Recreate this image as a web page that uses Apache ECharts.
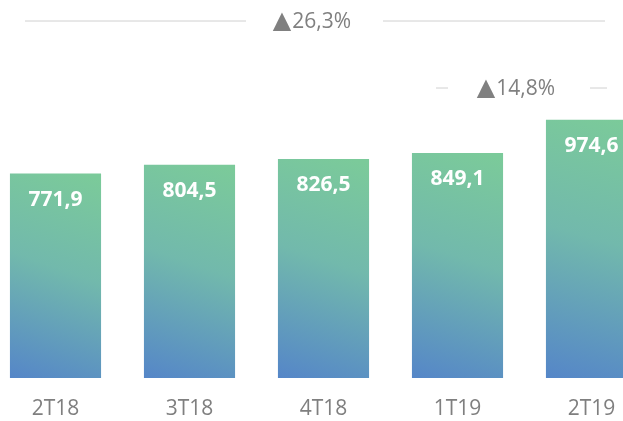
<!DOCTYPE html>
<html>
<head>
<meta charset="utf-8">
<script src="https://cdn.jsdelivr.net/npm/echarts@6/dist/echarts.min.js"></script>
<style>
  html, body { margin: 0; padding: 0; background: #fff; }
  #chart { width: 623px; height: 421px; }
</style>
</head>
<body>
<div id="chart"></div>
<script>
var categories = ['2T18', '3T18', '4T18', '1T19', '2T19']
var values = [771.9, 804.5, 826.5, 849.1, 974.6]
var growthLabels = ['26,3%', '14,8%']

var chart = echarts.init(document.getElementById('chart'))

function fmt(v) {
  return v.toFixed(1).replace('.', ',')
}

function growthText(x, y, txt) {
  return {
    type: 'text', x: x, y: y,
    style: {
      text: '{t|▲}' + txt,
      fill: '#808080',
      font: '21px "Open Sans"',
      align: 'center',
      verticalAlign: 'middle',
      rich: {
        t: { fontFamily: 'DejaVu Sans', fontSize: 24, fill: '#808080', padding: [0, 1, 0, 0] }
      }
    }
  }
}

chart.setOption({
  animation: false,
  grid: {
    left: -11.5,
    right: -35.5,
    top: 113,
    bottom: 43,
    outerBoundsMode: 'none',
    containLabel: false
  },
  xAxis: {
    type: 'category',
    data: categories,
    axisLine: { show: false },
    axisTick: { show: false },
    axisLabel: {
      color: '#7f7f7f',
      fontFamily: 'Open Sans',
      fontSize: 21,
      margin: 21
    }
  },
  yAxis: {
    type: 'value',
    min: 0,
    max: 1000,
    show: false,
    splitLine: { show: false }
  },
  series: [{
    type: 'bar',
    data: values,
    barCategoryGap: '32%',
    itemStyle: {
      color: new echarts.graphic.LinearGradient(0.8, 0, 0, 1, [
        { offset: 0, color: '#7bca9a' },
        { offset: 0.45, color: '#72b9ac' },
        { offset: 1, color: '#5586c8' }
      ])
    },
    label: {
      show: true,
      position: 'insideTop',
      distance: 16,
      color: '#ffffff',
      fontFamily: 'Open Sans',
      fontWeight: 'bold',
      fontSize: 21,
      formatter: function (p) { return fmt(p.value) }
    }
  }],
  graphic: [
    { type: 'line', shape: { x1: 25, y1: 21, x2: 246, y2: 21 }, style: { stroke: '#d0d0d0', lineWidth: 1 } },
    { type: 'line', shape: { x1: 383, y1: 21, x2: 605, y2: 21 }, style: { stroke: '#d0d0d0', lineWidth: 1 } },
    growthText(312, 22, growthLabels[0]),
    { type: 'line', shape: { x1: 436, y1: 88, x2: 448, y2: 88 }, style: { stroke: '#d0d0d0', lineWidth: 1 } },
    { type: 'line', shape: { x1: 590, y1: 88, x2: 607, y2: 88 }, style: { stroke: '#d0d0d0', lineWidth: 1 } },
    growthText(516, 89, growthLabels[1])
  ]
})
</script>
</body>
</html>
